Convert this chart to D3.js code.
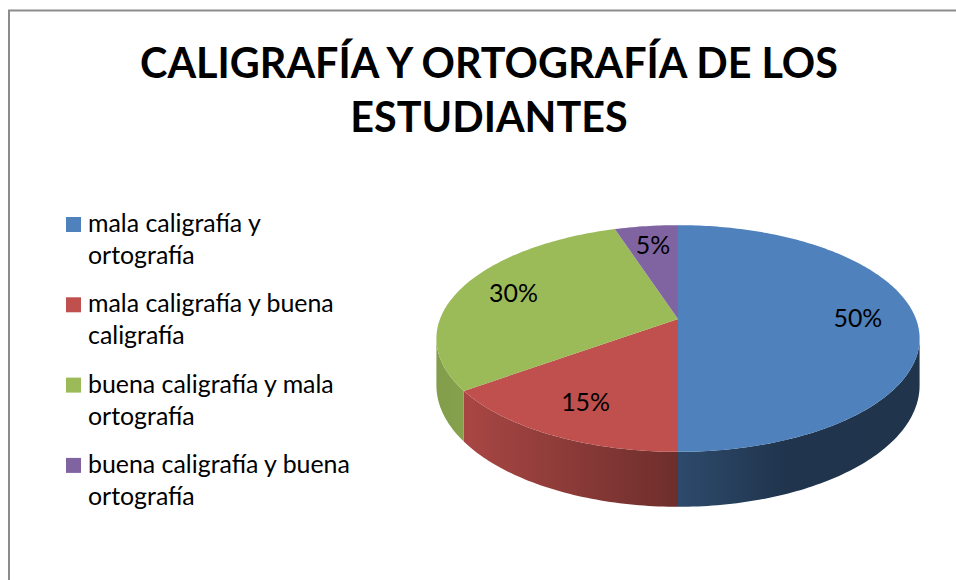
<!DOCTYPE html>
<html>
<head>
<meta charset="utf-8">
<script src="https://cdn.jsdelivr.net/npm/d3@7"></script>
<style>
  body { margin: 0; background: #fff; }
  text { font-family: Lato, "Open Sans", sans-serif; }
</style>
</head>
<body>
<div id="chart"></div>
<script>
const titleLines = ['CALIGRAFÍA Y ORTOGRAFÍA DE LOS', 'ESTUDIANTES']
const categories = [
    ['mala caligrafía y', 'ortografía'],
    ['mala caligrafía y buena', 'caligrafía'],
    ['buena caligrafía y mala', 'ortografía'],
    ['buena caligrafía y buena', 'ortografía']
]
const values = [50, 15, 30, 5]
const labels = ['50%', '15%', '30%', '5%']
const colors = ['#4f81bd', '#c0504d', '#9bbb59', '#8064a2']

const W = 956, H = 580
const svg = d3.select('#chart').append('svg')
    .attr('width', W)
    .attr('height', H)

svg.append('rect')
    .attr('x', 9).attr('y', 10.5)
    .attr('width', W + 20).attr('height', H + 20)
    .attr('fill', 'none')
    .attr('stroke', '#8c8c8c')
    .attr('stroke-width', 2)

// fit a text node to a target width by changing font-size
function fitText(sel, target){
    const len = sel.node().getComputedTextLength()
    const fs = parseFloat(sel.attr('font-size'))
    sel.attr('font-size', fs * target / len)
}

// title
const title = svg.append('g')
const t1 = title.append('text')
    .attr('x', 489).attr('y', 78)
    .attr('text-anchor', 'middle')
    .attr('font-weight', 'bold')
    .attr('font-size', 40)
    .attr('fill', '#000')
    .text(titleLines[0])
fitText(t1, 698)
title.append('text')
    .attr('x', 489).attr('y', 132)
    .attr('text-anchor', 'middle')
    .attr('font-weight', 'bold')
    .attr('font-size', t1.attr('font-size'))
    .attr('fill', '#000')
    .text(titleLines[1])

// legend
const legend = svg.append('g')
const probe = legend.append('text').attr('font-size', 20).text(categories[3][0])
fitText(probe, 262)
const legendFs = probe.attr('font-size')
probe.remove()

const items = legend.selectAll('g.item')
    .data(categories)
    .enter()
    .append('g')
    .attr('class', 'item')
    .attr('transform', (d, i) => `translate(0, ${232 + 80.3 * i})`)
items.append('rect')
    .attr('x', 66).attr('y', -15)
    .attr('width', 15).attr('height', 15)
    .attr('fill', (d, i) => colors[i])
items.selectAll('text')
    .data(d => d)
    .enter()
    .append('text')
    .attr('x', 88)
    .attr('y', (d, i) => i * 32)
    .attr('font-size', legendFs)
    .attr('fill', '#000')
    .text(d => d)

// 3D pie with a bit of perspective
const cx = 678, cy = 319
const A = 238, B = 110, k = 0.172, D = 45.5
function proj(a, r, z){
    const u = Math.sin(a) * r, w = -Math.cos(a) * r
    const den = 1 - k * w
    return [cx + A * u / den, cy + B * w / den + z * D / den]
}
function arcPts(a0, a1, z){
    const n = Math.max(2, Math.ceil((a1 - a0) / (Math.PI / 180)))
    return d3.range(n + 1).map(j => proj(a0 + (a1 - a0) * j / n, 1, z))
}

const arcs = d3.pie().sort(null).value(d => d)(values)
const line = d3.line()
const defs = svg.append('defs')
const pie = svg.append('g')

// shading of the side wall along x
const shade = [[0, 0.84], [0.07, 0.87], [0.5, 0.57], [0.72, 0.41], [1, 0.40]]
arcs.forEach((d, i) => {
    const base = d3.rgb(colors[i])
    const g = defs.append('linearGradient')
        .attr('id', 'side' + i)
        .attr('gradientUnits', 'userSpaceOnUse')
        .attr('x1', cx - A * 1.015).attr('x2', cx + A * 1.015)
        .attr('y1', 0).attr('y2', 0)
    g.selectAll('stop')
        .data(shade)
        .enter()
        .append('stop')
        .attr('offset', s => s[0])
        .attr('stop-color', s => d3.rgb(base.r * s[1], base.g * s[1], base.b * s[1]).formatHex())
})

const sVis = Math.acos(-k)
arcs.forEach((d, i) => {
    const a0 = Math.max(d.startAngle, sVis)
    const a1 = Math.min(d.endAngle, 2 * Math.PI - sVis)
    if (a1 <= a0) return
    const pts = arcPts(a0, a1, 0).concat(arcPts(a0, a1, 1).reverse())
    pie.append('path')
        .attr('d', line(pts) + 'Z')
        .attr('fill', `url(#side${i})`)
})

arcs.forEach((d, i) => {
    const pts = [proj(0, 0, 0)].concat(arcPts(d.startAngle, d.endAngle, 0))
    pie.append('path')
        .attr('d', line(pts) + 'Z')
        .attr('fill', colors[i])
})

pie.selectAll('text.lbl')
    .data(arcs)
    .enter()
    .append('text')
    .attr('class', 'lbl')
    .attr('x', d => proj((d.startAngle + d.endAngle) / 2, 0.756, 0)[0])
    .attr('y', d => proj((d.startAngle + d.endAngle) / 2, 0.756, 0)[1] + 8)
    .attr('text-anchor', 'middle')
    .attr('font-size', legendFs)
    .attr('fill', '#000')
    .text((d, i) => labels[i])
</script>
</body>
</html>
